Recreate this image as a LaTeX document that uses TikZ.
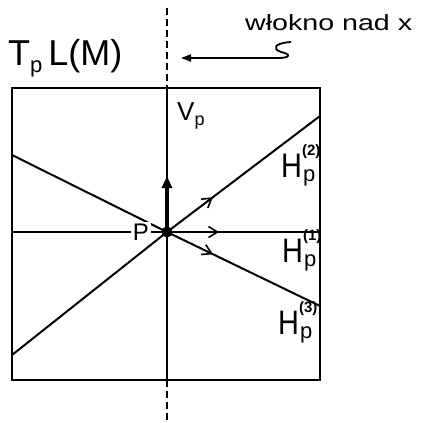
\documentclass[tikz,border=0pt]{standalone}
\usepackage{fontspec}
\setmainfont{Liberation Sans}
\usetikzlibrary{arrows.meta,decorations.markings}
\newcommand{\hlab}[1]{\scalebox{0.85}[1]{H}\makebox[0pt][l]{\raisebox{22pt}{\fontsize{15}{15}\selectfont\bfseries(#1)}}\hspace{1pt}\raisebox{-4pt}{\fontsize{22}{22}\selectfont p}}
\begin{document}
\begin{tikzpicture}[x=1pt,y=-1pt,
  frame/.style={line width=2.2pt},
  ln/.style={line width=2pt},
  fib/.style={line width=2pt,dash pattern=on 7pt off 4pt},
  midarrow/.style={decoration={markings,mark=at position #1 with {\arrow{Straight Barb[length=9pt,width=11pt,line width=1.6pt]}}},postaction={decorate}},
  lbl/.style={inner sep=0pt,font=\fontsize{#1}{#1}\selectfont}]
\useasboundingbox (0,0) rectangle (422,423);
% box
\coordinate (tl) at (12,88);
\coordinate (br) at (320,380);
\draw[frame] (tl) rectangle (br);
% fibre
\coordinate (ftop) at (167,8);
\coordinate (fbt) at (167,88);
\coordinate (fbb) at (167,380);
\coordinate (fend) at (167,423);
\draw[fib] (ftop) -- (fbt);
\draw[fib] (fbb) -- (fend);
\draw[ln] (fbt) -- (fbb);
% P
\coordinate (P) at (167,232);
\coordinate (h1l) at (12,232);
\coordinate (h1r) at (320,232);
\coordinate (h2l) at (12,355);
\coordinate (h2r) at (320,116);
\coordinate (h3l) at (12,155);
\coordinate (h3r) at (320,306);
\draw[ln] (h1l) -- (P);
\draw[ln,midarrow=0.34] (P) -- (h1r);
\draw[ln] (h2l) -- (P);
\draw[ln,midarrow=0.3] (P) -- (h2r);
\draw[ln] (h3l) -- (P);
\draw[ln,midarrow=0.3] (P) -- (h3r);
\coordinate (vtip) at (167,176);
\draw[line width=3.2pt,-{Triangle[length=12pt,width=10pt]}] (P) -- (vtip);
\fill (P) circle (5.5pt);
% labels
\node[lbl=24,fill=white,inner sep=1.5pt] (Plbl) at (141,232) {P};
\node[lbl=26,anchor=north west] (Vlbl) at (177,102) {V\raisebox{-5pt}{\fontsize{18}{18}\selectfont p}};
\node[lbl=36,anchor=south west] (TL) at (8,77) {T\raisebox{-7pt}{\fontsize{22}{22}\selectfont p}\,L(M)};
\node[lbl=34,anchor=base west] (H2) at (281,177) {\hlab{2}};
\node[lbl=34,anchor=base west] (H1) at (282,262) {\hlab{1}};
\node[lbl=34,anchor=base west] (H3) at (278,334) {\hlab{3}};
\node[lbl=22,anchor=south west] (wl) at (245,31) {\scalebox{1.3}[1]{włokno nad x}};
% pointer
\coordinate (s0) at (291,42);
\coordinate (s1) at (281,52);
\coordinate (s2) at (278,58);
\coordinate (atip) at (181,58);
\draw[line width=1.8pt,-{Triangle[length=10pt,width=7pt]}] (s0) .. controls (274,43) and (272,49) .. (s1) .. controls (291,54) and (291,58) .. (s2) -- (atip);
\end{tikzpicture}
\end{document}
